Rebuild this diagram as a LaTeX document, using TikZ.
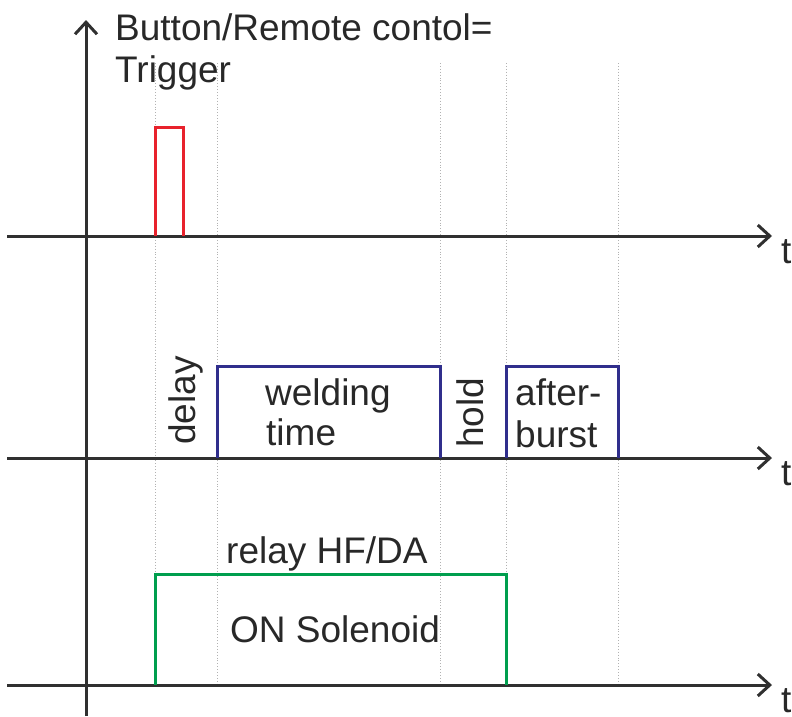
\documentclass[tikz,border=0pt]{standalone}
\usepackage{fontspec}
\setmainfont{Liberation Sans}
\usetikzlibrary{arrows.meta}
\definecolor{axisgray}{RGB}{48,48,48}
\definecolor{txtgray}{RGB}{40,40,40}
\definecolor{trigred}{RGB}{232,34,44}
\definecolor{weldblue}{RGB}{48,46,140}
\definecolor{relaygreen}{RGB}{0,158,78}
\tikzset{
  axis/.style={draw=axisgray, line width=3pt, -{Straight Barb[length=12pt,width=22pt,line width=3pt]}},
  guide/.style={draw=black!30, line width=0.9pt, dotted},
  pulse/.style={line width=3pt, line join=miter},
  lbl/.style={inner sep=0pt, anchor=base west, text=txtgray, font=\fontsize{37}{42}\selectfont},
}
\begin{document}
\begin{tikzpicture}[x=1pt, y=-1pt]
\useasboundingbox (0,0) rectangle (792,716);

% time marks
\foreach \name/\xx in {ta/155, tb/217, tc/440, td/506, te/618}
  \draw[guide] (\xx,63) coordinate (\name top) -- (\xx,685) coordinate (\name bot);

% axes
\coordinate (origin) at (86,716);
\coordinate (ytip) at (86,20);
\draw[axis] (origin) -- (ytip);
\foreach \name/\yy in {one/236, two/458, three/685}{
  \coordinate (\name L) at (7,\yy);
  \coordinate (\name R) at (772,\yy);
  \draw[axis] (\name L) -- (\name R);
}
\node[lbl] (t1) at (781,263) {t};
\node[lbl] (t2) at (781,485) {t};
\node[lbl] (t3) at (781,712) {t};

% trigger pulse
\draw[pulse, trigred] (155,236) -- (155,127) -- (183,127) -- (183,236);

% welding time and afterburst
\draw[pulse, weldblue] (217,458) -- (217,366) -- (440,366) -- (440,458);
\draw[pulse, weldblue] (506,458) -- (506,366) -- (618,366) -- (618,458);

% relay HF/DA
\draw[pulse, relaygreen] (155,685) -- (155,574) -- (506,574) -- (506,685);

% labels
\node[lbl] (title1) at (115,40) {Button/Remote contol=};
\node[lbl] (title2) at (115,82) {Trigger};
\node[lbl, rotate=90] (delay) at (195,445) {delay};
\node[lbl] (weld1) at (265,405) {welding};
\node[lbl] (weld2) at (266,445) {time};
\node[lbl, rotate=90] (hold) at (483,448) {hold};
\node[lbl] (after1) at (515,405) {after-};
\node[lbl] (after2) at (515,447) {burst};
\node[lbl] (relay) at (226,563) {relay HF/DA};
\node[lbl] (solenoid) at (230,642) {ON Solenoid};
\end{tikzpicture}
\end{document}
